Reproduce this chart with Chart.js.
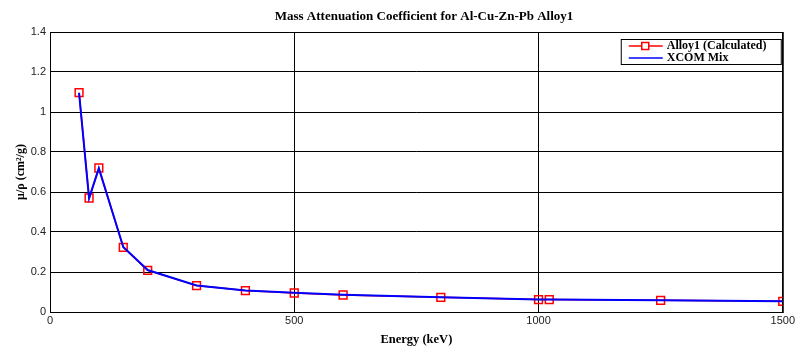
<!DOCTYPE html>
<html>
<head>
    <title>Mass Attenuation Coefficient</title>
    <style>
        body { margin: 0; padding: 0; background: #fff; }
        #wrap { width: 797px; height: 347px; }
    </style>
    <script src="https://cdn.jsdelivr.net/npm/chart.js"></script>
</head>
<body>
<div id="wrap"><canvas id="myChart" width="797" height="347"></canvas></div>
<script>
    // energies (keV)
    const energies = [59.5, 80, 100, 150, 200, 300, 400, 500, 600, 800, 1000, 1022, 1250, 1500];
    // mu/rho (cm2/g)
    const alloyCalc = [1.097, 0.570, 0.720, 0.323, 0.208, 0.132, 0.107, 0.095, 0.085, 0.0735, 0.062, 0.062, 0.0585, 0.0535];
    const xcomMix   = [1.095, 0.568, 0.718, 0.325, 0.210, 0.133, 0.108, 0.096, 0.086, 0.074, 0.063, 0.0625, 0.059, 0.054];
    const xTicks = [0, 500, 1000, 1500];
    const yTicks = [0, 0.2, 0.4, 0.6, 0.8, 1, 1.2, 1.4];

    const toXY = (xs, ys) => xs.map((x, i) => ({ x: x, y: ys[i] }));

    // title, plot frame and legend box
    const decor = {
        id: 'decor',
        afterDraw(chart) {
            const c = chart.ctx, a = chart.chartArea;
            c.save();
            c.strokeStyle = '#000';
            c.lineWidth = 1;
            c.strokeRect(a.left + 0.5, a.top + 0.5, a.right - a.left, a.bottom - a.top);

            c.fillStyle = '#000';
            c.font = 'bold 13px "Liberation Serif"';
            c.textAlign = 'center';
            c.textBaseline = 'middle';
            c.fillText('Mass Attenuation Coefficient for Al-Cu-Zn-Pb Alloy1', 424, 17);

            // legend
            const lx = a.right - 162, ly = a.top + 7, lw = 160, lh = 25;
            c.fillStyle = '#fff';
            c.fillRect(lx, ly, lw, lh);
            c.strokeRect(lx + 0.5, ly + 0.5, lw, lh);
            c.lineWidth = 1.5;
            c.strokeStyle = '#ff0000';
            c.beginPath(); c.moveTo(lx + 8, ly + 7); c.lineTo(lx + 42, ly + 7); c.stroke();
            c.fillStyle = '#fff';
            c.fillRect(lx + 21, ly + 3.5, 7, 7);
            c.strokeRect(lx + 21, ly + 3.5, 7, 7);
            c.strokeStyle = '#0000ff';
            c.beginPath(); c.moveTo(lx + 8, ly + 19); c.lineTo(lx + 42, ly + 19); c.stroke();
            c.fillStyle = '#000';
            c.textAlign = 'left';
            c.font = 'bold 12px "Liberation Serif"';
            c.fillText('Alloy1 (Calculated)', lx + 46, ly + 7);
            c.fillText('XCOM Mix', lx + 46, ly + 19);
            c.restore();
        }
    };

    const ctx = document.getElementById('myChart').getContext('2d');
    new Chart(ctx, {
        type: 'line',
        data: {
            datasets: [{
                label: 'Alloy1 (Calculated)',
                data: toXY(energies, alloyCalc),
                borderColor: '#ff0000',
                borderWidth: 1.5,
                pointStyle: 'rect',
                pointRadius: 5.5,
                pointBorderWidth: 1.5,
                pointBackgroundColor: 'rgba(0,0,0,0)',
                pointBorderColor: '#ff0000',
                order: 1
            }, {
                label: 'XCOM Mix',
                data: toXY(energies, xcomMix),
                borderColor: '#0000ff',
                borderWidth: 2,
                pointRadius: 0,
                order: 0
            }]
        },
        options: {
            responsive: false,
            animation: false,
            layout: { padding: { left: 0, right: 12, top: 32, bottom: 0 } },
            scales: {
                x: {
                    type: 'linear',
                    min: 0, max: 1500,
                    afterBuildTicks: s => { s.ticks = xTicks.map(v => ({ value: v })); },
                    afterFit: s => { s.height = 35; },
                    ticks: { color: '#222', font: { family: 'Liberation Sans', size: 11 }, padding: 2,
                        callback: v => String(v) },
                    grid: { color: '#000', lineWidth: 1, drawTicks: false },
                    border: { color: '#000' },
                    title: { display: true, text: 'Energy (keV)', color: '#000',
                        font: { family: 'Liberation Serif', weight: 'bold', size: 12.5 }, padding: { top: 2, bottom: 0 } }
                },
                y: {
                    type: 'linear',
                    min: 0, max: 1.4,
                    afterBuildTicks: s => { s.ticks = yTicks.map(v => ({ value: v })); },
                    afterFit: s => { s.width = 50; },
                    ticks: { color: '#222', font: { family: 'Liberation Sans', size: 11 }, padding: 4,
                        callback: v => String(+v.toFixed(1)) },
                    grid: { color: '#000', lineWidth: 1, drawTicks: false },
                    border: { color: '#000' },
                    title: { display: true, text: 'μ/ρ (cm²/g)', color: '#000',
                        font: { family: 'Liberation Serif', weight: 'bold', size: 12 }, padding: { top: 14, bottom: 4 } }
                }
            },
            plugins: {
                legend: { display: false },
                tooltip: { enabled: false }
            }
        },
        plugins: [decor]
    });
</script>
</body>
</html>
